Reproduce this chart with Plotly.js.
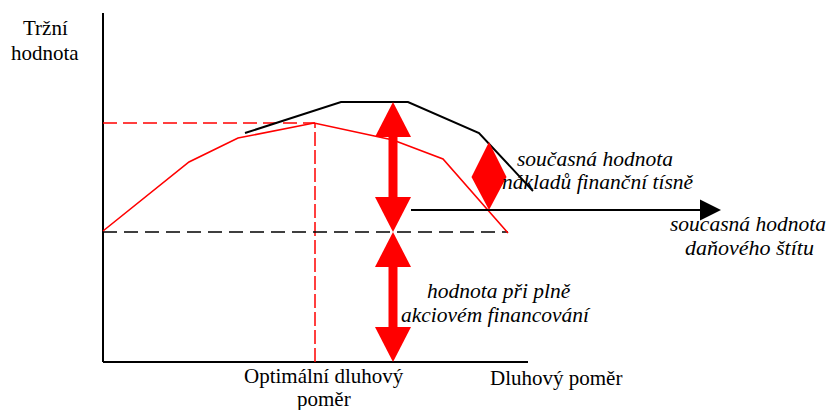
<!DOCTYPE html>
<html><head><meta charset="utf-8">
<script src="https://cdn.plot.ly/plotly-3.0.1.min.js"></script>
<style>
html,body{margin:0;padding:0;background:#fff}
#chart{width:828px;height:410px}
#chart text, #chart tspan{font-family:'Liberation Serif' !important}
</style>
</head><body><div id="chart"></div><script>
// Diagram values (debt ratio on x, market value on y; origin = axis corner)
const redCurveX = [0, 86, 135, 211, 290, 340, 405];
const redCurveY = [131, 200, 224, 239, 222, 203, 129];
const blackCurveX = [142, 238, 305, 376, 430];
const blackCurveY = [229, 260, 260, 229, 171];
const optimumX = 212;
const optimumY = 239;
const unleveredValue = 130;
const baselineEndX = 405;
const leveredMax = 260;
const arrowX = 290;
const distressX = 386;
const distressLow = 152;
const distressMid = 185;
const distressHigh = 220;
const shieldY = 152;
const shieldStartX = 308;
const shieldEndX = 618;
const axisTopY = 349;
const axisEndX = 425;

const RED = '#ff0000';
const FONT = 'Liberation Serif';

function line(x, y, color, width, dash) {
  return {type: 'scatter', mode: 'lines', x: x, y: y, hoverinfo: 'skip',
    line: {color: color, width: width, dash: dash || 'solid'}};
}
function vTri(x, tipY, baseY, halfW, color) {
  return {type: 'scatter', mode: 'lines', hoverinfo: 'skip', fill: 'toself', fillcolor: color,
    x: [x - halfW, x + halfW, x, x - halfW], y: [baseY, baseY, tipY, baseY],
    line: {color: color, width: 0}};
}
function hTri(y, tipX, baseX, halfH, color) {
  return {type: 'scatter', mode: 'lines', hoverinfo: 'skip', fill: 'toself', fillcolor: color,
    x: [baseX, baseX, tipX, baseX], y: [y - halfH, y + halfH, y, y - halfH],
    line: {color: color, width: 0}};
}

const headL = 35, headW = 18, shaftW = 9;
const traces = [
  line([0, 0], [0, axisTopY], '#000', 2),
  line([0, axisEndX], [0, 0], '#000', 2),
  line([0, optimumX], [optimumY, optimumY], RED, 1.5, '14px,6px'),
  line([optimumX, optimumX], [0, optimumY], RED, 1.5, '14px,4px'),
  line([0, baselineEndX], [unleveredValue, unleveredValue], '#000', 1.5, '14px,7px'),
  line(redCurveX, redCurveY, RED, 1.6),
  line(blackCurveX, blackCurveY, '#000', 2),
  // horizontal black arrow (tax shield)
  line([shieldStartX, shieldEndX - 20], [shieldY, shieldY], '#000', 2),
  hTri(shieldY, shieldEndX, shieldEndX - 21, 10.5, '#000'),
  // big red double arrow: tax shield part
  line([arrowX, arrowX], [unleveredValue + headL - 1, leveredMax - headL + 1], RED, shaftW),
  vTri(arrowX, leveredMax, leveredMax - headL, headW, RED),
  vTri(arrowX, unleveredValue, unleveredValue + headL, headW, RED),
  // big red double arrow: unlevered part
  line([arrowX, arrowX], [headL - 1, unleveredValue - headL + 1], RED, shaftW),
  vTri(arrowX, unleveredValue, unleveredValue - headL, headW, RED),
  vTri(arrowX, 0, headL, headW, RED),
  // distress cost diamond
  vTri(distressX, distressHigh, distressMid, 17.5, RED),
  vTri(distressX, distressLow, distressMid, 17.5, RED)
];

function ann(text, x, y, size, italic) {
  return {text: italic ? '<i>' + text + '</i>' : text, x: x, y: y, xref: 'x', yref: 'y',
    showarrow: false, xanchor: 'center', yanchor: 'middle',
    font: {family: FONT, size: size, color: '#000'}};
}

const layout = {
  width: 828, height: 410,
  margin: {l: 0, r: 0, t: 0, b: 0},
  paper_bgcolor: '#fff', plot_bgcolor: '#fff',
  showlegend: false, hovermode: false,
  xaxis: {range: [-103, 725], visible: false, fixedrange: true},
  yaxis: {range: [-48, 362], visible: false, fixedrange: true},
  annotations: [
    ann('Tržní', -58, 334, 21),
    ann('hodnota', -58, 309, 21),
    ann('Optimální dluhový', 221, -14, 21),
    ann('poměr', 221, -37, 21),
    ann('Dluhový poměr', 453, -16, 21),
    ann('současná hodnota', 492, 203, 21.5, true),
    ann('nákladů finanční tísně', 495, 180, 21.5, true),
    ann('soucasná hodnota', 645, 138, 21.5, true),
    ann('daňového štítu', 646, 115, 22, true),
    ann('hodnota při plně', 396, 71, 21.5, true),
    ann('akciovém financování', 393, 47, 21.5, true)
  ]
};

Plotly.newPlot('chart', traces, layout, {staticPlot: true, displayModeBar: false});
</script></body></html>
